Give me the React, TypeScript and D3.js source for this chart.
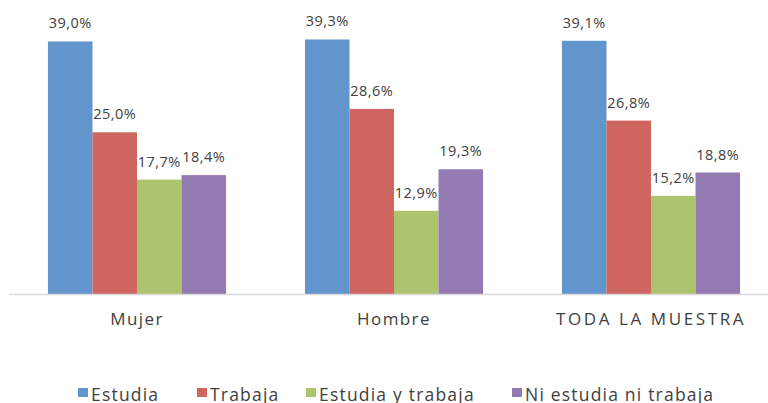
import React from "react";
import { scaleBand, scaleLinear } from "d3";

const categories = ["Mujer", "Hombre", "TODA LA MUESTRA"];
const seriesNames = ["Estudia", "Trabaja", "Estudia y trabaja", "Ni estudia ni trabaja"];
const estudia = [39.0, 39.3, 39.1];
const trabaja = [25.0, 28.6, 26.8];
const estudiaYTrabaja = [17.7, 12.9, 15.2];
const niEstudiaNiTrabaja = [18.4, 19.3, 18.8];
const colors = ["#6195cb", "#cf6660", "#adc46e", "#937ab3"];

const series = [estudia, trabaja, estudiaYTrabaja, niEstudiaNiTrabaja];

export default function App() {
  const width = 768;
  const height = 403;
  const baseline = 294.5;
  const font = "'Open Sans', 'DejaVu Sans', sans-serif";

  const xScale = scaleBand()
    .domain(categories)
    .range([8.5, 779.5])
    .paddingInner(0.307)
    .paddingOuter(0.1535);
  const subScale = scaleBand()
    .domain(seriesNames)
    .range([0, xScale.bandwidth()]);
  const yScale = scaleLinear().domain([0, 45]).range([baseline, baseline - 292]);

  const fmt = (v) => v.toFixed(1).replace(".", ",") + "%";
  // legend entry positions
  const legendX = [78, 197, 306, 512];

  return (
    <svg
      width={width}
      height={height}
      style={{ position: "absolute", left: 0, top: 0, background: "#fff" }}
    >
      {categories.map((cat, i) => (
        <g key={cat} transform={`translate(${xScale(cat)},0)`}>
          {series.map((vals, s) => {
            const x = subScale(seriesNames[s]);
            const y = yScale(vals[i]);
            return (
              <g key={s}>
                <rect
                  x={x}
                  y={y}
                  width={subScale.bandwidth()}
                  height={baseline - y}
                  fill={colors[s]}
                />
                <text
                  x={x + subScale.bandwidth() / 2}
                  y={y - 13}
                  textAnchor="middle"
                  fontFamily={font}
                  fontSize={14.5}
                  letterSpacing={0.5}
                  fill="#404040"
                >
                  {fmt(vals[i])}
                </text>
              </g>
            );
          })}
          <text
            x={xScale.bandwidth() / 2}
            y={325}
            textAnchor="middle"
            fontFamily={font}
            fontSize={17}
            letterSpacing={cat === cat.toUpperCase() ? 2.6 : 1.4}
            fill="#404040"
          >
            {cat}
          </text>
        </g>
      ))}
      <line x1={9} x2={768} y1={baseline} y2={baseline} stroke="#d9d9d9" strokeWidth={1.5} />
      {seriesNames.map((name, s) => (
        <g key={name} transform={`translate(${legendX[s]},0)`}>
          <rect x={0} y={388} width={10} height={9} fill={colors[s]} />
          <text
            x={13}
            y={400.5}
            fontFamily={font}
            fontSize={17.5}
            letterSpacing={1.2}
            fill="#404040"
          >
            {name}
          </text>
        </g>
      ))}
    </svg>
  );
}
